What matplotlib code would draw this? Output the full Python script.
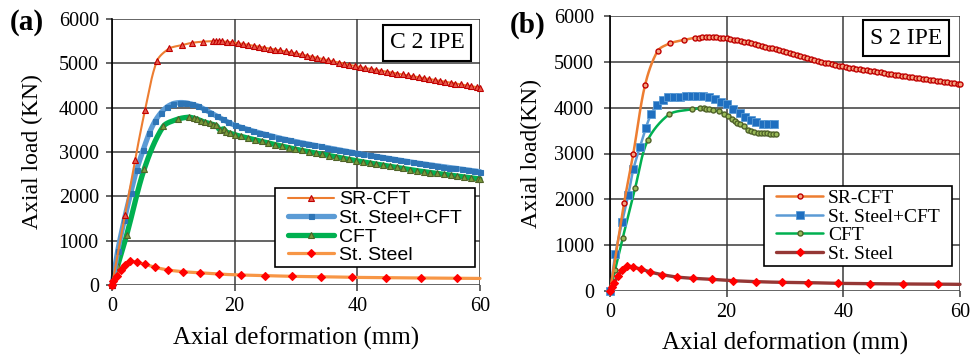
import numpy as np
import matplotlib
matplotlib.use("Agg")
import matplotlib.pyplot as plt
from matplotlib.patches import Rectangle

SERIF = "Liberation Serif"
SANS = "Liberation Sans"
plt.rcParams['font.family'] = [SERIF, 'DejaVu Serif']

# ---------------- data: panel (a) C 2 IPE ----------------
a_sr_x = [0, 2.1, 3.75, 5.4, 7.35, 9.35, 11.4, 13.0, 14.9, 16.5, 17.0, 17.4,
          17.9, 18.7, 19.6, 20.5, 21.4, 22.2, 23.1, 24.0, 24.8, 25.7, 26.6, 27.4,
          28.3, 29.2, 30.0, 30.9, 31.8, 32.6, 33.5, 34.4, 35.2, 36.1, 37.0, 37.8,
          38.7, 39.6, 40.4, 41.3, 42.2, 43.0, 43.9, 44.8, 45.6, 46.5, 47.4, 48.2,
          49.1, 50.0, 50.8, 51.7, 52.6, 53.4, 54.3, 55.2, 56.0, 56.9, 57.8, 58.6,
          59.5, 60.0]
a_sr_y = [0, 1570, 2810, 3955, 5060, 5336, 5410, 5462, 5490, 5500, 5500, 5500,
          5496, 5488, 5475, 5456, 5437, 5418, 5397, 5375, 5355, 5334, 5312, 5291,
          5270, 5248, 5227, 5200, 5173, 5149, 5122, 5095, 5071, 5044, 5017, 4993,
          4966, 4939, 4915, 4893, 4872, 4853, 4832, 4811, 4792, 4770, 4749, 4730,
          4709, 4685, 4667, 4646, 4625, 4606, 4585, 4564, 4545, 4524, 4503, 4484,
          4463, 4451]

a_sc_x = [0, 0.92, 2.0, 3.04, 4.02, 5.1, 6.09, 7.0, 8.0, 8.97, 10.0, 11.1,
          12.07, 13.04, 14.1, 15.05, 16.03, 17.07, 18.04, 18.97, 20, 21, 22, 23,
          24, 25, 26, 27, 28, 29, 30, 31, 32, 33, 34, 35, 36, 37, 38, 39, 40, 41,
          42, 43, 44, 45, 46, 47, 48, 49, 50, 51, 52, 53, 54, 55, 56, 57, 58, 59, 60]
a_sc_y = [0, 760, 1470, 2072, 2600, 3052, 3429, 3693, 3889, 4017, 4092, 4115,
          4107, 4077, 4032, 3964, 3889, 3806, 3738, 3668, 3605, 3558, 3514, 3472,
          3433, 3396, 3360, 3325, 3292, 3262, 3233, 3205, 3178, 3151, 3125, 3099,
          3073, 3047, 3021, 2995, 2970, 2947, 2924, 2901, 2879, 2857, 2835, 2813,
          2790, 2767, 2745, 2726, 2707, 2688, 2669, 2650, 2631, 2612, 2593, 2575, 2556]

a_cft_x = [0, 0.92, 2.4, 5.27, 8.37, 10.7, 12.5, 13.3, 13.8, 14.5, 15.2, 15.9,
           16.5, 17.0, 17.6, 18.2, 18.6, 19.3, 20.0, 21.1, 22.2, 23.3, 24.4, 25.5,
           26.6, 27.7, 28.8, 29.9, 31.0, 32.1, 33.2, 34.3, 35.4, 36.5, 37.6, 38.7,
           39.8, 40.9, 42.0, 43.1, 44.2, 45.3, 46.4, 47.5, 48.6, 49.7, 50.8, 51.9,
           53.0, 54.1, 55.2, 56.3, 57.4, 58.5, 59.6, 60.0]
a_cft_y = [0, 437, 1130, 2622, 3580, 3740, 3785, 3765, 3745, 3705, 3670, 3645,
           3620, 3600, 3500, 3520, 3455, 3420, 3390, 3350, 3312, 3275, 3238, 3202,
           3167, 3132, 3098, 3064, 3034, 3005, 2976, 2947, 2918, 2889, 2860, 2832,
           2802, 2777, 2752, 2727, 2702, 2678, 2653, 2628, 2604, 2579, 2557, 2537,
           2517, 2497, 2477, 2457, 2437, 2418, 2398, 2391]

a_st_x = [0, 0.2, 0.76, 1.41, 2.12, 2.93, 4.02, 5.38, 7.0, 9.08, 11.5, 14.3,
          17.5, 21.0, 25.0, 29.3, 34.0, 39.2, 44.6, 50.3, 56.3, 60.0]
a_st_y = [0, 98, 211, 339, 460, 535, 512, 467, 400, 340, 301, 275,
          245, 226, 211, 195, 188, 173, 165, 158, 150, 148]

# ---------------- data: panel (b) S 2 IPE ----------------
b_sr_x = [0, 2.4, 4.0, 6.0, 8.2, 10.3, 12.6, 14.6, 15.2, 15.8, 16.4, 17.0, 17.6,
          18.2, 18.8, 19.4, 20.0, 20.6, 21.2, 21.8, 22.4, 23.0, 23.6, 24.2, 24.8,
          25.4, 26.0, 26.6, 27.2, 27.8, 28.4, 29.0, 29.6, 30.2, 30.8, 31.4, 32.0,
          32.6, 33.2, 33.8, 34.4, 35.0, 35.6, 36.2, 36.8, 37.4, 38.0, 38.6, 39.2,
          39.8, 40.4, 41.0, 41.6, 42.2, 42.8, 43.4, 44.0, 44.6, 45.2, 45.8, 46.4,
          47.0, 47.6, 48.2, 48.8, 49.4, 50.0, 50.6, 51.2, 51.8, 52.4, 53.0, 53.6,
          54.2, 54.8, 55.4, 56.0, 56.6, 57.2, 57.8, 58.4, 59.0, 59.6, 60.0]
b_sr_y = [0, 1910, 3000, 4490, 5244, 5404, 5477, 5527, 5530, 5535, 5537, 5537, 5535,
          5531, 5526, 5519, 5512, 5500, 5487, 5472, 5456, 5440, 5423, 5405, 5387,
          5368, 5349, 5330, 5311, 5291, 5270, 5249, 5228, 5205, 5185, 5165, 5145,
          5125, 5104, 5083, 5062, 5042, 5022, 5003, 4985, 4967, 4950, 4934, 4917,
          4900, 4887, 4875, 4863, 4851, 4839, 4827, 4815, 4803, 4791, 4780, 4768,
          4756, 4745, 4733, 4721, 4710, 4698, 4687, 4676, 4664, 4653, 4642, 4631,
          4619, 4608, 4597, 4586, 4575, 4563, 4552, 4541, 4530, 4518, 4510]

b_sc_x = [0, 0.91, 2.06, 3.14, 4.0, 5.14, 6.11, 7.03, 8.0, 9.03, 10.0, 10.97,
          12.0, 12.97, 14.0, 14.97, 16.0, 17.0, 17.97, 19.0, 20.0, 21.0, 22.2,
          23.1, 24.1, 25.1, 26.2, 27.1, 28.1]
b_sc_y = [0, 800, 1498, 2100, 2655, 3149, 3549, 3855, 4058, 4167, 4226, 4240,
          4240, 4248, 4255, 4255, 4248, 4226, 4182, 4131, 4073, 3978, 3891,
          3804, 3731, 3680, 3651, 3644, 3637]

b_cft_x = [0, 0.86, 2.17, 4.3, 6.46, 10.17, 14.0, 15.5, 16.1, 16.4, 17.0, 17.7,
           18.6, 19.5, 20.3, 20.9, 21.4, 21.8, 22.3, 22.9, 23.6, 24.2, 24.7, 25.3,
           25.8, 26.4, 26.9, 27.4, 28.0, 28.5]
b_cft_y = [0, 458, 1150, 2240, 3288, 3855, 3964, 3986, 3993, 3971, 3964, 3942,
           3927, 3869, 3818, 3760, 3716, 3673, 3644, 3607, 3513, 3484, 3477, 3455,
           3455, 3440, 3455, 3426, 3419, 3426]

b_st_x = [0, 0.29, 0.69, 1.43, 2.06, 2.86, 4.0, 5.31, 6.86, 8.97, 11.43, 14.29,
          17.43, 21.0, 25.0, 29.4, 34.0, 39.1, 44.6, 50.3, 56.3, 60.0]
b_st_y = [0, 80, 182, 335, 458, 545, 516, 480, 415, 356, 305, 276,
          255, 225, 204, 189, 182, 167, 160, 153, 150, 145]

labels = ["SR-CFT", "St. Steel+CFT", "CFT", "St. Steel"]
x_ticks = [0, 20, 40, 60]
y_ticks = [0, 1000, 2000, 3000, 4000, 5000, 6000]


def smooth(x, y, n=8):
    """Smoothed (Excel-like) curve through the data points; data points stay at
    indices k*n so that markers sit exactly on them."""
    x = np.asarray(x, float)
    y = np.asarray(y, float)
    P = np.column_stack([x / 60.0, y / 6000.0])
    m = len(P)
    D = np.zeros_like(P)
    D[1:-1] = P[2:] - P[:-2]
    D[0] = P[1] - P[0]
    D[-1] = P[-1] - P[-2]
    U = D / np.maximum(np.linalg.norm(D, axis=1, keepdims=True), 1e-12)
    out = []
    for i in range(m - 1):
        L = np.linalg.norm(P[i + 1] - P[i]) * 0.9
        for k in range(n):
            t = k / n
            h00 = 2 * t**3 - 3 * t**2 + 1
            h10 = t**3 - 2 * t**2 + t
            h01 = -2 * t**3 + 3 * t**2
            h11 = t**3 - t**2
            out.append(h00 * P[i] + h10 * L * U[i] + h01 * P[i + 1] + h11 * L * U[i + 1])
    out.append(P[-1])
    out = np.array(out)
    return out[:, 0] * 60.0, out[:, 1] * 6000.0, n


def draw(ax, x, y, label, color, lw, marker, ms, mfc, mec, mew=1.0,
         skip_last=False, z=2):
    sx, sy, n = smooth(x, y)
    idx = list(range(0, len(sx), n))
    if skip_last:
        idx = idx[:-1]
    ax.plot(sx, sy, color=color, lw=lw, marker=marker, ms=ms, mfc=mfc, mec=mec,
            mew=mew, markevery=idx, label=label, clip_on=False, zorder=z,
            solid_capstyle='round')


fig = plt.figure(figsize=(9.8, 3.6), dpi=100)
axA = fig.add_axes([112 / 980, 1 - 285 / 360, 368 / 980, 266 / 360])
axB = fig.add_axes([610 / 980, 1 - 291 / 360, 350 / 980, 275 / 360])

# panel (a)
draw(axA, a_sr_x, a_sr_y, labels[0], '#ED7D31', 1.5, '^', 5, '#E8584A', '#C00000', 0.8, z=3)
draw(axA, a_sc_x, a_sc_y, labels[1], '#5B9BD5', 3.8, 's', 3.6, '#2E75B6', '#2E75B6', 0.8, z=2.5)
draw(axA, a_cft_x, a_cft_y, labels[2], '#00B050', 3.8, '^', 4.5, '#7A9A3A', '#4F6228', 0.8, z=2.4)
draw(axA, a_st_x, a_st_y, labels[3], '#F79646', 2.3, 'D', 4.2, '#FF0000', '#FF0000', 0.8,
     skip_last=True, z=3.2)

# panel (b)
draw(axB, b_sr_x, b_sr_y, labels[0], '#ED7D31', 1.8, 'o', 3.6, '#F4A582', '#C00000', 1.0, z=2.6)
draw(axB, b_sc_x, b_sc_y, labels[1], '#5B9BD5', 1.8, 's', 5.2, '#1F6FC0', '#5B9BD5', 0.6, z=2.5)
draw(axB, b_cft_x, b_cft_y, labels[2], '#00B050', 1.8, 'o', 3.6, '#9BBB59', '#4F6228', 1.0, z=2.4)
draw(axB, b_st_x, b_st_y, labels[3], '#953735', 2.4, 'D', 4.2, '#FF0000', '#FF0000', 0.8,
     skip_last=True, z=3.2)

for ax, ylab, ylx, xly, ypad in [(axA, "Axial load (KN)", -0.217, -0.199, 5),
                                  (axB, "Axial load(KN)", -0.223, -0.189, 7)]:
    ax.set_xlim(0, 60)
    ax.set_ylim(0, 6000)
    ax.set_xticks(x_ticks)
    ax.set_yticks(y_ticks)
    ax.grid(True, color='#3A3A3A', lw=1.1)
    ax.set_axisbelow(True)
    for s in ['top', 'right', 'bottom']:
        ax.spines[s].set_visible(False)
    ax.spines['left'].set_color('black')
    ax.spines['left'].set_linewidth(1.2)
    ax.tick_params(axis='both', direction='out', length=4.5, width=1.1,
                   color='#3A3A3A', labelsize=14.5)
    ax.tick_params(axis='y', pad=ypad)
    ax.tick_params(axis='x', pad=4)
    for t in ax.get_xticklabels() + ax.get_yticklabels():
        t.set_fontfamily(SERIF)
    ax.set_xlabel("Axial deformation (mm)", fontsize=18, va='center')
    ax.set_ylabel(ylab, fontsize=17, va='center')
    ax.xaxis.set_label_coords(0.5, xly)
    ax.yaxis.set_label_coords(ylx, 0.5)

# panel letters
fig.text(27 / 980, 1 - 23 / 360, "(a)", fontsize=21, fontweight='bold',
         ha='center', va='center')
fig.text(528 / 980, 1 - 25 / 360, "(b)", fontsize=21, fontweight='bold',
         ha='center', va='center')

# boxed titles
box = dict(boxstyle='square,pad=0.3', fc='white', ec='black', lw=1.5)
fig.text(427 / 980, 1 - 43 / 360, "C 2 IPE", fontsize=17, ha='center', va='center', bbox=box)
fig.text(906 / 980, 1 - 38 / 360, "S 2 IPE", fontsize=17, ha='center', va='center', bbox=box)

# legends: frame drawn as a rectangle, entries centred inside it
for ax, (x0, y0, x1, y1), fam in [(axA, (275, 188, 475, 267), SANS),
                                  (axB, (764, 186, 952, 266), SERIF)]:
    fig.patches.append(Rectangle((x0 / 980, 1 - y1 / 360), (x1 - x0) / 980,
                                 (y1 - y0) / 360, transform=fig.transFigure,
                                 fc='white', ec='black', lw=1.2, zorder=4))
    leg = ax.legend(loc='center', bbox_to_anchor=((x0 + x1) / 2 / 980,
                                                   1 - (y0 + y1) / 2 / 360),
                    bbox_transform=fig.transFigure, borderaxespad=0,
                    numpoints=1, prop={'family': fam, 'size': 14},
                    handlelength=2.4, handletextpad=0.25, labelspacing=0.05,
                    borderpad=0, frameon=False)
    leg.set_zorder(5)
    fig.legends.append(leg)
    ax.get_legend().remove()

fig.savefig("out.png", dpi=100)
